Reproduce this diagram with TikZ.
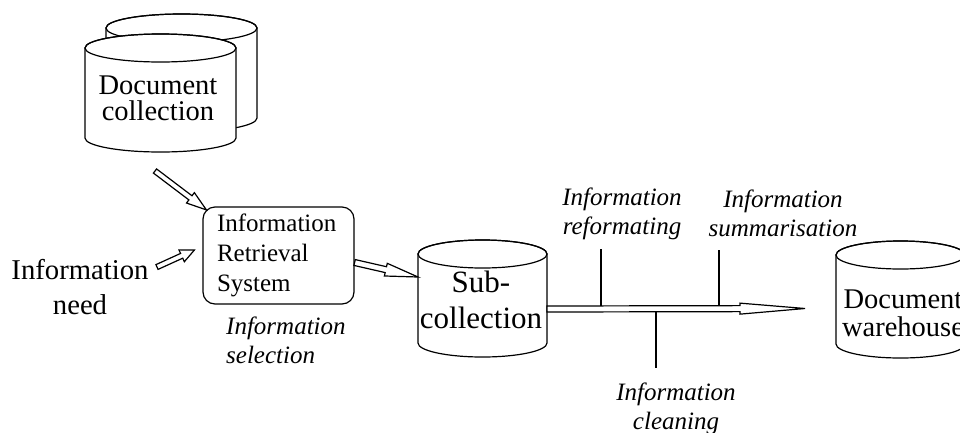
\documentclass[tikz,border=0pt]{standalone}
\usepackage{fontspec}
\setmainfont{Liberation Serif}
\usetikzlibrary{calc}
\tikzset{
  lw/.style={line width=1.2pt},
  bigtext/.style={font=\fontsize{28.5}{26}\selectfont, align=center, inner sep=0pt},
  boxtext/.style={font=\fontsize{25}{30}\selectfont},
  itlabel/.style={font=\fontsize{25}{29}\selectfont\itshape, align=center, inner sep=0pt},
  irbox/.style={draw, lw, rounded corners=12pt, minimum width=151pt, minimum height=97pt,
    text width=123pt, inner xsep=14pt, align=left},
  tick/.style={lw},
  harrowline/.style={lw, fill=white, line join=miter},
}
% hollow arrow: #1 start, #2 tip, #3 shaft half width, #4 head half width, #5 head length
\newcommand\hollowarr[5]{%
  \coordinate (hbase) at ($(#2)!#5!(#1)$);
  \draw[harrowline] ($(#1)!#3!90:(#2)$) -- ($(hbase)!#3!90:(#2)$) -- ($(hbase)!#4!90:(#2)$)
    -- (#2) -- ($(hbase)!#4!-90:(#2)$) -- ($(hbase)!#3!-90:(#2)$) -- ($(#1)!#3!-90:(#2)$) -- cycle;
}
% cylinder: #1 cx, #2 top center y, #3 bottom center y, #4 rx, #5 ry
\newcommand\cylbody[5]{%
  \filldraw[lw, fill=white] (#1-#4,#2) -- (#1-#4,#3) arc[start angle=180, end angle=360, x radius=#4, y radius=#5] -- (#1+#4,#2) arc[start angle=0, end angle=180, x radius=#4, y radius=#5] -- cycle;
  \draw[lw] (#1,#2) ellipse[x radius=#4, y radius=#5];
}
\begin{document}
\begin{tikzpicture}[x=1pt,y=1pt]
\useasboundingbox (0,0) rectangle (960,-432);
\clip (0,0) rectangle (960,-432);

% Document collection (two stacked cylinders)
\cylbody{181.5}{-28}{-118}{75.5}{14}
\cylbody{160.5}{-48}{-138}{75.5}{14}
\node[bigtext] (doccoll) at (158,-98.5) {Document\\collection};

% Information need
\node[bigtext, font=\fontsize{28.7}{35}\selectfont] (need) at (80,-287) {Information\\need};

% IR system box
\node[irbox, boxtext] (ir) at (278.5,-255.5) {Information\\Retrieval\\System};
\node[itlabel, align=left, anchor=west] (sel) at (226,-340.5) {Information\\selection};

% Sub-collection
\cylbody{482.5}{-254}{-343}{64.5}{14}
\node[bigtext, font=\fontsize{31}{36}\selectfont] (sub) at (481,-300) {Sub-\\collection};

% Document warehouse
\cylbody{900.5}{-255}{-344}{64.5}{14}
\node[bigtext, font=\fontsize{28.5}{28}\selectfont] (wh) at (903,-313.5) {Document\\warehouse};

% named end points
\coordinate (a1s) at (155,-171);
\coordinate (a1e) at ($(ir.north west)+(4,-3.5)$);
\coordinate (a2s) at (157,-267);
\coordinate (a2e) at ($(ir.west)+(-8,5.5)$);
\coordinate (a3s) at ($(ir.east)+(0,-7)$);
\coordinate (subW) at (418,-277);
\coordinate (subE) at (547,-309);
\coordinate (bigEnd) at (805,-308.5);

\hollowarr{a1s}{a1e}{2.6pt}{6.5pt}{20pt}
\hollowarr{a2s}{a2e}{2.6pt}{6.5pt}{14pt}
\hollowarr{a3s}{subW}{3pt}{6.5pt}{33pt}
\hollowarr{subE}{bigEnd}{3pt}{5.5pt}{65pt}

% process labels and ticks
\node[itlabel] (refo) at (622,-214) {Information\\reformating};
\node[itlabel] (summ) at (783,-213.5) {Information\\summarisation};
\node[itlabel] (clean) at (676,-409) {Information\\cleaning};
\coordinate (t1a) at (601,-249); \coordinate (t1b) at (601,-306);
\coordinate (t2a) at (719,-250); \coordinate (t2b) at (719,-306);
\coordinate (t3a) at (656,-312); \coordinate (t3b) at (656,-368);
\draw[tick] (t1a) -- (t1b);
\draw[tick] (t2a) -- (t2b);
\draw[tick] (t3a) -- (t3b);
\end{tikzpicture}
\end{document}
